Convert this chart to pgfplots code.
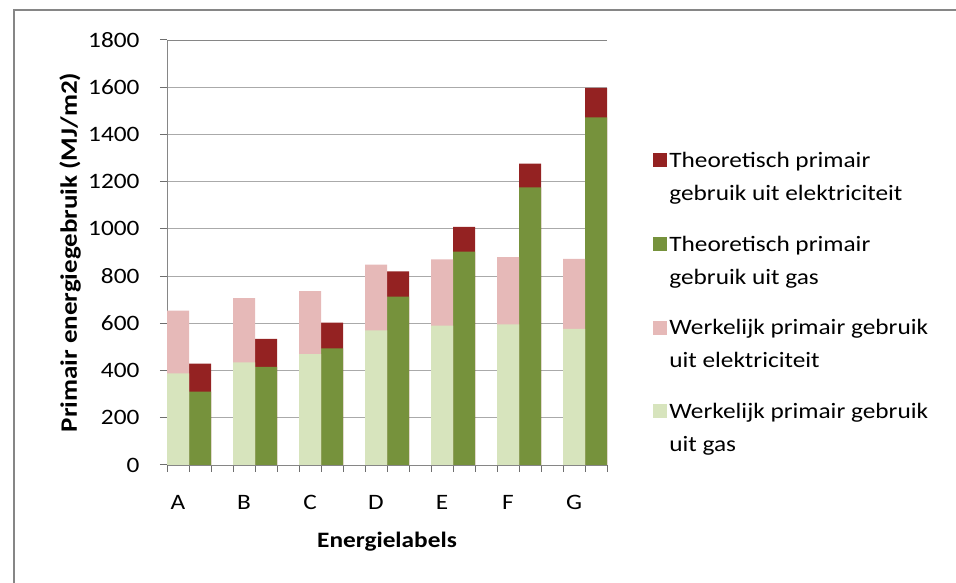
\documentclass[border=0pt]{standalone}
\usepackage{pgfplots}
\pgfplotsset{compat=1.18}
\usepackage{fontspec}
\setmainfont{Carlito}[FakeStretch=1.15]
\definecolor{tred}{RGB}{148,34,34}
\definecolor{tgreen}{RGB}{118,146,60}
\definecolor{wpink}{RGB}{230,185,184}
\definecolor{wgreen}{RGB}{215,228,189}
\definecolor{axgray}{RGB}{134,134,134}
\definecolor{tickgray}{RGB}{110,110,110}
\begin{document}
\begin{tikzpicture}
\path[use as bounding box] (0pt,0pt) rectangle (956pt,583pt);
\draw[axgray, line width=1.5pt] (14pt,0pt) -- (14pt,573pt) -- (956pt,573pt);
\begin{axis}[
  at={(167pt,118pt)}, anchor=south west,
  scale only axis, width=440pt, height=425pt,
  xmin=0, xmax=20, ymin=0, ymax=1800,
  ytick distance=200,
  ymajorgrids, grid style={axgray!70, line width=0.8pt},
  separate axis lines,
  x axis line style={draw=axgray, line width=0.9pt},
  y axis line style={draw=none},
  xtick pos=lower, ytick pos=left,
  tick align=outside,
  every tick/.style={draw=tickgray, line width=1pt},
  major tick length=7pt,
  xtick={0,...,20},
  xticklabels={A,,,B,,,C,,,D,,,E,,,F,,,G,,},
  xticklabel style={anchor=center, xshift=11pt, yshift=-30pt},
  extra x ticks={0},
  extra x tick labels={\empty},
  extra x tick style={grid=major, major grid style={draw=axgray, line width=0.9pt}},
  font=\fontsize{22}{27}\selectfont,
  /pgf/number format/assume math mode=true,
  /pgf/number format/1000 sep={},
  yticklabel style={xshift=-17pt},
  ylabel={\fontsize{23.5}{28}\selectfont\bfseries Primair energiegebruik (MJ/m2)},
  ylabel style={at={(axis description cs:-0.22,0.5)}, anchor=center},
  xlabel={\bfseries Energielabels},
  xlabel style={at={(axis description cs:0.5,-0.18)}, anchor=center},
  ybar, bar width=22pt, bar shift=0pt,
  legend style={at={(rel axis cs:1.098,0.746)}, anchor=north west, draw=none,
    font=\fontsize{22}{33}\selectfont,
    cells={anchor=west, align=left}, row sep=30pt},
  legend image code/.code={\fill[#1] (0pt,10pt) rectangle (14pt,24pt);},
]
% theoretical totals (gas + electricity)
\addplot[fill=tred, draw=none] coordinates {(1.5,429) (4.5,534) (7.5,603) (10.5,820) (13.5,1009) (16.5,1276) (19.5,1597)};
\addlegendentry{Theoretisch primair\\gebruik uit elektriciteit}
% theoretical gas
\addplot[fill=tgreen, draw=none] coordinates {(1.5,311) (4.5,416) (7.5,494) (10.5,713) (13.5,904) (16.5,1176) (19.5,1472)};
\addlegendentry{Theoretisch primair\\gebruik uit gas}
% actual totals (gas + electricity)
\addplot[fill=wpink, draw=none] coordinates {(0.5,654) (3.5,707) (6.5,736) (9.5,849) (12.5,871) (15.5,880) (18.5,873)};
\addlegendentry{Werkelijk primair gebruik\\uit elektriciteit}
% actual gas
\addplot[fill=wgreen, draw=none] coordinates {(0.5,388) (3.5,435) (6.5,470) (9.5,570) (12.5,590) (15.5,596) (18.5,577)};
\addlegendentry{Werkelijk primair gebruik\\uit gas}
\end{axis}
\end{tikzpicture}
\end{document}
